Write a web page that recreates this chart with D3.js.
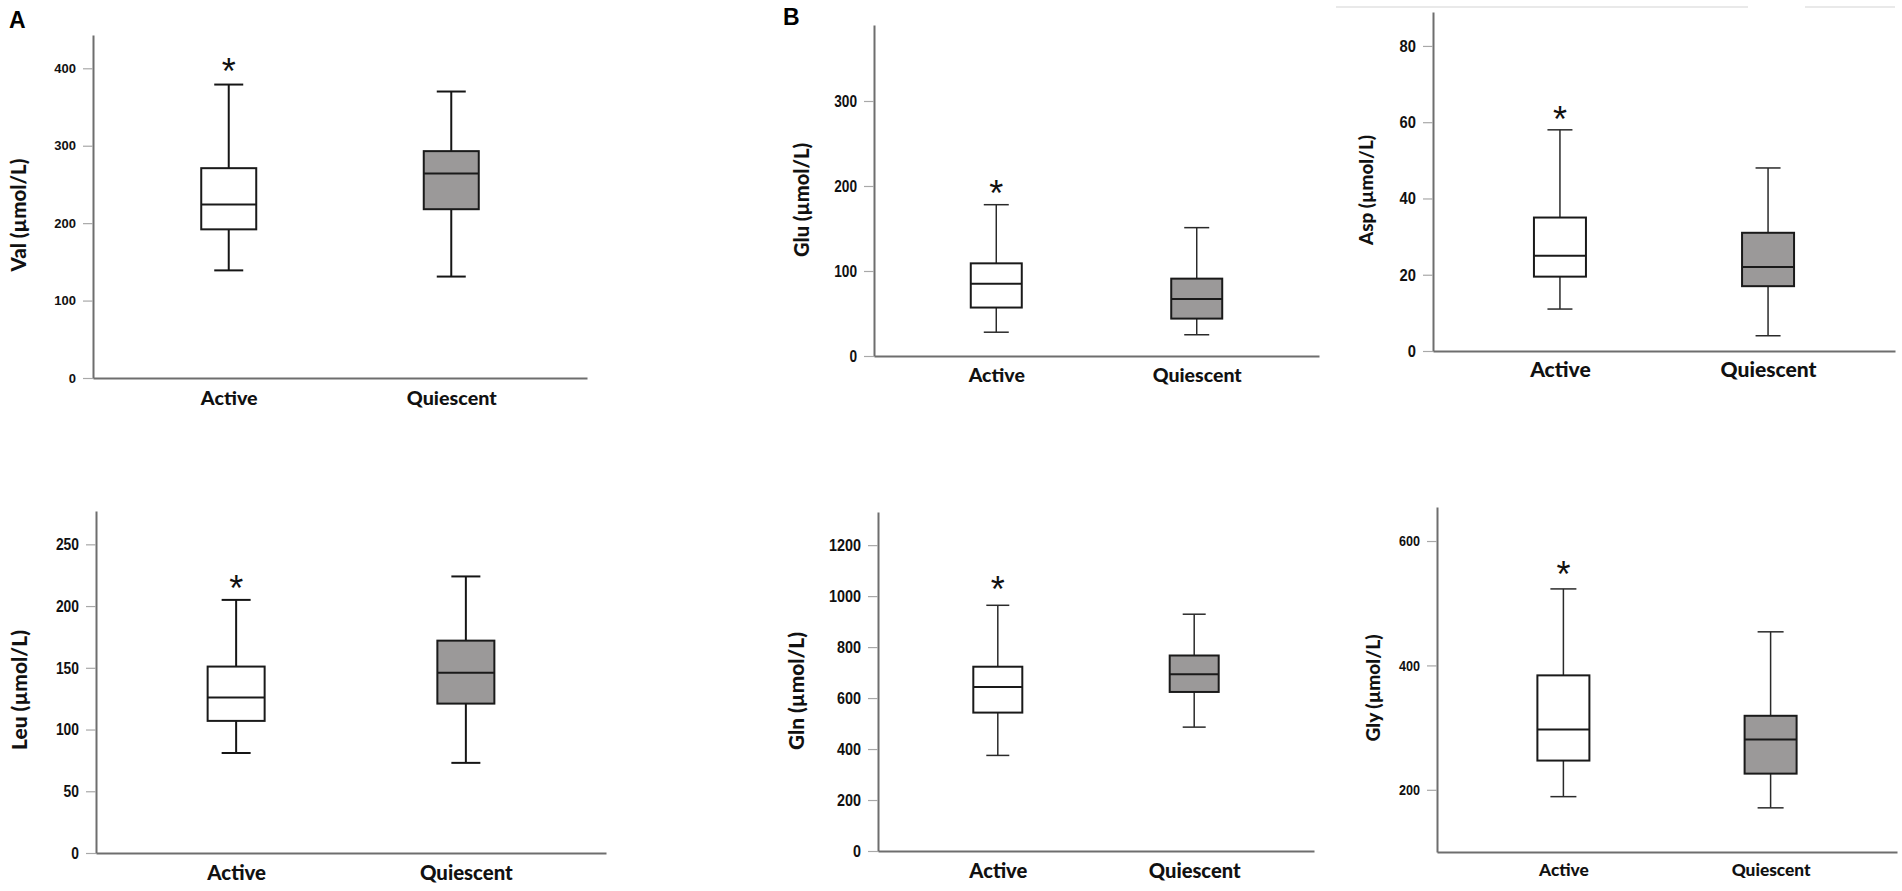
<!DOCTYPE html>
<html>
<head>
<meta charset="utf-8">
<script src="https://cdn.jsdelivr.net/npm/d3@7"></script>
<style>
    body { margin: 0; background: #fff; }
    svg { display: block; }
</style>
</head>
<body>
<svg id="fig" width="1902" height="891"></svg>
<script>
// Groups on the x axis
const categories = ["Active", "Quiescent"];

// Five-number summaries: [min, q1, median, q3, max]
const valActive = [139, 192, 224, 271, 379];
const valQuiescent = [131, 218, 264, 293, 370];
const leuActive = [81, 107, 126, 151, 205];
const leuQuiescent = [73, 121, 146, 172, 224];
const gluActive = [28, 57, 85, 109, 178];
const gluQuiescent = [25, 44, 67, 91, 151];
const aspActive = [11, 19.5, 25, 35, 58];
const aspQuiescent = [4, 17, 22, 31, 48];
const glnActive = [375, 543, 643, 723, 964];
const glnQuiescent = [486, 624, 693, 767, 929];
const glyActive = [189, 247, 297, 384, 523];
const glyQuiescent = [171, 226, 281, 319, 454];

// Significance marker per group
const significance = ["*", ""];

// Tick values
const valTicks = [0, 100, 200, 300, 400];
const leuTicks = [0, 50, 100, 150, 200, 250];
const gluTicks = [0, 100, 200, 300];
const aspTicks = [0, 20, 40, 60, 80];
const glnTicks = [0, 200, 400, 600, 800, 1000, 1200];
const glyTicks = [200, 400, 600];

// Axis titles
const valTitle = "Val (µmol/L)";
const leuTitle = "Leu (µmol/L)";
const gluTitle = "Glu (µmol/L)";
const aspTitle = "Asp (µmol/L)";
const glnTitle = "Gln (µmol/L)";
const glyTitle = "Gly (µmol/L)";

const WIDE = "'Liberation Sans', Arial, sans-serif";
const TITLE = "Lato, 'Open Sans', sans-serif";

class BoxPlot {

    constructor(_config, _data) {
        this.config = _config;
        this.data = _data;
        this.initVis();
    }

    initVis() {
        let vis = this;
        const c = vis.config;
        vis.svg = d3.select(c.parentElement);
        vis.chart = vis.svg.append('g');

        vis.yScale = d3.scaleLinear()
            .domain(c.domain)
            .range([c.bottom, c.top]);

        vis.xScale = d3.scalePoint()
            .domain(categories)
            .range([c.left, c.right])
            .padding(0.61);

        vis.renderVis();
    }

    renderVis() {
        let vis = this;
        vis._renderAxes();
        vis._renderBoxes();
    }

    _renderAxes() {
        let vis = this;
        const c = vis.config;

        // y axis
        const yAxis = vis.chart.append('g')
            .attr('transform', `translate(${c.left},0)`)
            .call(d3.axisLeft(vis.yScale)
                .tickValues(vis.data.ticks)
                .tickFormat(d3.format('d'))
                .tickSize(10)
                .tickPadding(7)
                .tickSizeOuter(0));
        yAxis.select('.domain').attr('stroke', '#6e6e6e').attr('stroke-width', 2);
        yAxis.selectAll('.tick line').attr('stroke', '#a8a8a8').attr('stroke-width', 1.2);
        const tickText = yAxis.selectAll('.tick text')
            .attr('fill', '#111')
            .style('font', `bold ${c.tickSize}px ${WIDE}`);
        // condensed digits, as in the figure
        if (c.digitWidth) {
            tickText
                .attr('textLength', d => String(d).length * c.digitWidth)
                .attr('lengthAdjust', 'spacingAndGlyphs');
        }

        // x axis
        const xAxis = vis.chart.append('g')
            .attr('transform', `translate(0,${c.bottom})`)
            .call(d3.axisBottom(vis.xScale).tickSize(0).tickSizeOuter(0));
        xAxis.select('.domain').attr('stroke', '#6e6e6e').attr('stroke-width', 2);
        const labels = xAxis.selectAll('.tick text')
            .attr('y', c.labelOffset)
            .attr('dy', '0.35em')
            .attr('fill', '#111')
            .style('font-family', TITLE)
            .style('font-weight', '900')
            .style('font-size', '20px');
        // size the labels so "Quiescent" spans the same width as in the figure
        const qNode = labels.filter(d => d === 'Quiescent').node();
        const fs = 20 * c.labelWidth / qNode.getComputedTextLength();
        labels.style('font-size', `${fs}px`);

        // y title
        const title = vis.chart.append('text')
            .attr('transform', `translate(${c.left - c.titleGap},${c.titleY}) rotate(-90)`)
            .attr('text-anchor', 'middle')
            .attr('dominant-baseline', 'central')
            .attr('fill', '#111')
            .style('font-family', TITLE)
            .style('font-weight', '900')
            .style('font-size', '20px')
            .text(vis.data.title);
        const tfs = 20 * c.titleWidth / title.node().getComputedTextLength();
        title.style('font-size', `${tfs}px`);
    }

    _renderBoxes() {
        let vis = this;
        const c = vis.config;
        const y = vis.yScale;

        const groups = vis.chart.selectAll('.box')
            .data(categories.map((cat, i) => ({ cat: cat, s: vis.data.stats[i], sig: significance[i], i: i })))
            .join('g')
                .attr('class', 'box')
                .attr('transform', d => `translate(${vis.xScale(d.cat)},0)`);

        // whiskers
        groups.append('line')
            .attr('y1', d => y(d.s[0])).attr('y2', d => y(d.s[1]))
            .attr('stroke', c.lineColor).attr('stroke-width', c.whiskerWidth);
        groups.append('line')
            .attr('y1', d => y(d.s[3])).attr('y2', d => y(d.s[4]))
            .attr('stroke', c.lineColor).attr('stroke-width', c.whiskerWidth);

        // caps
        groups.selectAll('.cap')
            .data(d => [d.s[0], d.s[4]])
            .join('line')
                .attr('class', 'cap')
                .attr('x1', -c.cap / 2).attr('x2', c.cap / 2)
                .attr('y1', v => y(v)).attr('y2', v => y(v))
                .attr('stroke', c.lineColor).attr('stroke-width', c.whiskerWidth);

        // box
        groups.append('rect')
            .attr('x', -c.box / 2)
            .attr('width', c.box)
            .attr('y', d => y(d.s[3]))
            .attr('height', d => y(d.s[1]) - y(d.s[3]))
            .attr('fill', d => d.i === 0 ? '#ffffff' : '#9b9999')
            .attr('stroke', '#1a1a1a')
            .attr('stroke-width', 2);

        // median
        groups.append('line')
            .attr('x1', -c.box / 2).attr('x2', c.box / 2)
            .attr('y1', d => y(d.s[2])).attr('y2', d => y(d.s[2]))
            .attr('stroke', '#1a1a1a').attr('stroke-width', 2);

        // significance asterisk
        groups.append('text')
            .attr('text-anchor', 'middle')
            .attr('y', d => y(d.s[4]) - c.sigGap + 19)
            .attr('fill', '#111')
            .style('font', `36px ${WIDE}`)
            .text(d => d.sig);
    }
}

const svg = '#fig';

new BoxPlot({ parentElement: svg, left: 93, right: 587, top: 35, bottom: 378, domain: [0, 443],
    box: 55, cap: 29, tickSize: 13, labelOffset: 20, labelWidth: 90,
    titleGap: 75, titleY: 215, titleWidth: 113, lineColor: '#151515', whiskerWidth: 2, sigGap: 20 },
    { stats: [valActive, valQuiescent], ticks: valTicks, title: valTitle });

new BoxPlot({ parentElement: svg, left: 96, right: 606, top: 511, bottom: 853, domain: [0, 277],
    box: 57, cap: 29, tickSize: 17, digitWidth: 7.7, labelOffset: 20, labelWidth: 93,
    titleGap: 78, titleY: 690, titleWidth: 120, lineColor: '#151515', whiskerWidth: 2, sigGap: 18 },
    { stats: [leuActive, leuQuiescent], ticks: leuTicks, title: leuTitle });

new BoxPlot({ parentElement: svg, left: 874, right: 1319, top: 25, bottom: 356, domain: [0, 389.4],
    box: 51, cap: 25, tickSize: 17, digitWidth: 7.6, labelOffset: 19, labelWidth: 89,
    titleGap: 73, titleY: 200, titleWidth: 114, lineColor: '#2a2a2a', whiskerWidth: 1.5, sigGap: 18 },
    { stats: [gluActive, gluQuiescent], ticks: gluTicks, title: gluTitle });

new BoxPlot({ parentElement: svg, left: 1433, right: 1895, top: 12, bottom: 351, domain: [0, 88.9],
    box: 52, cap: 25, tickSize: 17, digitWidth: 8.2, labelOffset: 19, labelWidth: 96,
    titleGap: 68, titleY: 190, titleWidth: 110, lineColor: '#2a2a2a', whiskerWidth: 1.5, sigGap: 17 },
    { stats: [aspActive, aspQuiescent], ticks: aspTicks, title: aspTitle });

new BoxPlot({ parentElement: svg, left: 878, right: 1314, top: 512, bottom: 851, domain: [0, 1330],
    box: 49, cap: 23, tickSize: 17, digitWidth: 8, labelOffset: 20, labelWidth: 92,
    titleGap: 83, titleY: 691, titleWidth: 118, lineColor: '#2a2a2a', whiskerWidth: 1.5, sigGap: 22 },
    { stats: [glnActive, glnQuiescent], ticks: glnTicks, title: glnTitle });

new BoxPlot({ parentElement: svg, left: 1437, right: 1897, top: 507, bottom: 852, domain: [100, 654.7],
    box: 52, cap: 26, tickSize: 15, digitWidth: 7, labelOffset: 18, labelWidth: 79,
    titleGap: 65, titleY: 688, titleWidth: 107, lineColor: '#2a2a2a', whiskerWidth: 1.5, sigGap: 21 },
    { stats: [glyActive, glyQuiescent], ticks: glyTicks, title: glyTitle });

// panel letters
const fig = d3.select(svg);
fig.append('text').attr('x', 9).attr('y', 28)
    .style('font', `bold 23px ${WIDE}`).attr('fill', '#000').text('A');
fig.append('text').attr('x', 783).attr('y', 25)
    .style('font', `bold 23px ${WIDE}`).attr('fill', '#000').text('B');

// faint frame lines at the top right of the figure
fig.selectAll('.frame')
    .data([[1336, 1748], [1805, 1895]])
    .join('line')
        .attr('class', 'frame')
        .attr('x1', d => d[0]).attr('x2', d => d[1])
        .attr('y1', 7).attr('y2', 7)
        .attr('stroke', '#e2e2e2').attr('stroke-width', 1.5);
</script>
</body>
</html>
